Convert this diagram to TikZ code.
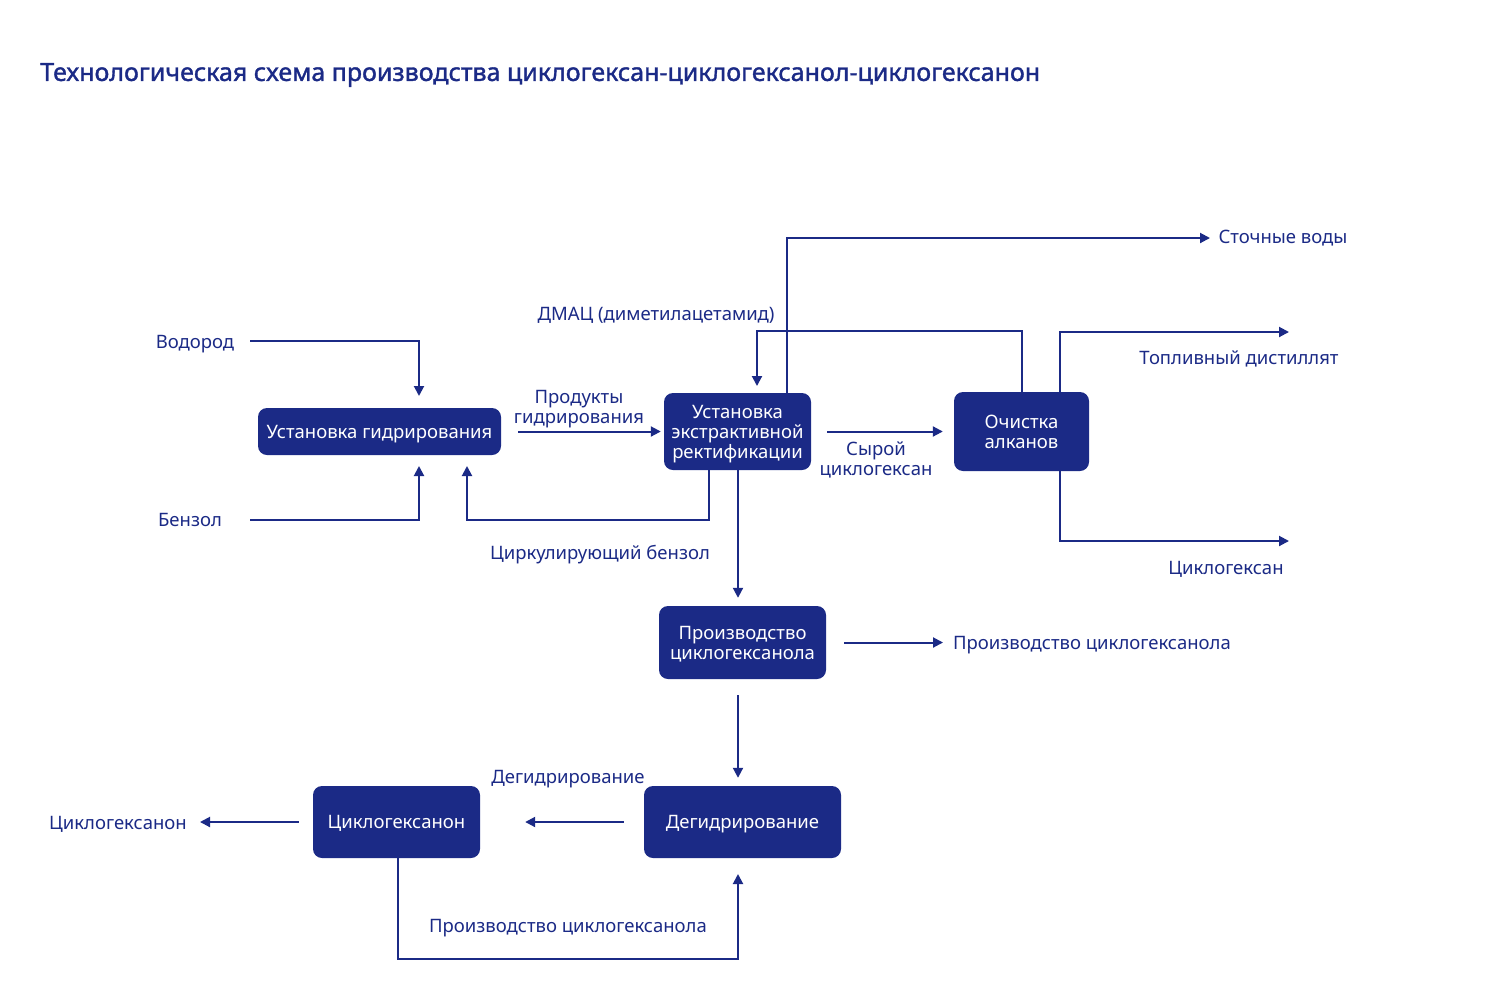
\documentclass[tikz,border=0pt]{standalone}
\usepackage{fontspec}
\setmainfont{Noto Sans}
\newfontfamily\titlefont[FakeBold=1.4]{Noto Sans}
\usetikzlibrary{arrows.meta,calc}
\definecolor{nb}{RGB}{27,42,134}
\begin{document}
\begin{tikzpicture}[x=1pt,y=-1pt,
 box/.style={draw=none,fill=nb,text=white,rounded corners=9pt,align=center,inner sep=0pt,text depth=0pt,font=\fontsize{18.5}{20}\selectfont},
 lbl/.style={text=nb,align=center,inner sep=0pt,text depth=0pt,font=\fontsize{18.5}{20}\selectfont},
 ln/.style={draw=nb,line width=2pt},
 arr/.style={ln,-{Triangle[length=10pt,width=10pt]}}]
\useasboundingbox (0,0) rectangle (1485,993);
% title
\node[text=nb,anchor=west,inner sep=0pt,font=\fontsize{25}{29}\titlefont] (title) at (40,75) {Технологическая схема производства циклогексан-циклогексанол-циклогексанон};
% boxes
\node[box,minimum width=243pt,minimum height=47pt] (hyd) at (379.5,431.5) {Установка гидрирования};
\node[box,minimum width=147pt,minimum height=77pt] (ext) at (737.5,431.5) {Установка\\экстрактивной\\ректификации};
\node[box,minimum width=135pt,minimum height=79pt] (och) at (1021.5,431.5) {Очистка\\алканов};
\node[box,minimum width=167pt,minimum height=73pt] (prod) at (742.5,642.5) {Производство\\циклогексанола};
\node[box,minimum width=197pt,minimum height=72pt] (deg) at (742.5,822) {Дегидрирование};
\node[box,minimum width=167pt,minimum height=72pt] (cyc) at (396.5,822) {Циклогексанон};
% labels
\node[lbl] (vod) at (195,342) {Водород};
\node[lbl] (ben) at (190,520) {Бензол};
\node[lbl] (prodg) at (579,407) {Продукты\\гидрирования};
\node[lbl] (dmac) at (656,314) {ДМАЦ (диметилацетамид)};
\node[lbl] (circ) at (600,552) {Циркулирующий бензол};
\node[lbl] (sw) at (1283,237) {Сточные воды};
\node[lbl] (syr) at (876,459) {Сырой\\циклогексан};
\node[lbl] (td) at (1239,358) {Топливный дистиллят};
\node[lbl] (ch) at (1226,568) {Циклогексан};
\node[lbl] (pcl) at (1092,643) {Производство циклогексанола};
\node[lbl] (dl) at (568,777) {Дегидрирование};
\node[lbl] (chn) at (118,823) {Циклогексанон};
\node[lbl] (pcl2) at (568,926) {Производство циклогексанола};
% coordinates
\coordinate (vodS) at (250,341);
\coordinate (hydT) at (419,396);
\coordinate (benS) at (250,520);
\coordinate (hydB) at (419,466);
\coordinate (cb2) at (709,520);
\coordinate (cb3) at (467,466);
\coordinate (dmT) at (757,331);
\coordinate (dmE) at (757,386);
\coordinate (swE) at (1210,238);
\coordinate (tdE) at (1289,332);
\coordinate (chE) at (1289,541);
\coordinate (lp2) at (738,959);
\coordinate (lp3) at (738,874);
\coordinate (pclS) at (943,642.5);
\coordinate (chnE) at (200,822);
% connectors
\draw[arr] (vodS) -| (hydT);
\draw[arr] (benS) -| (hydB);
\draw[arr] ([xshift=-28.5pt]ext.south) -- (cb2) -| (cb3);
\draw[arr,shorten <=17pt,shorten >=3pt] (hyd.east) -- (ext.west);
\draw[arr] (och.north) |- (dmT) -- (dmE);
\draw[arr] ([xshift=49.5pt]ext.north) |- (swE);
\draw[arr,shorten <=16pt,shorten >=11pt] (ext.east) -- (och.west);
\draw[arr] ([xshift=38.5pt]och.north) |- (tdE);
\draw[arr] ([xshift=38.5pt]och.south) |- (chE);
\draw[arr,shorten >=8pt] ([xshift=0.5pt]ext.south) -- ([xshift=-4.5pt]prod.north);
\draw[arr,shorten <=18pt] (prod.east) -- (pclS);
\draw[arr,shorten <=16pt,shorten >=8pt] ([xshift=-4.5pt]prod.south) -- ([xshift=-4.5pt]deg.north);
\draw[arr,shorten <=20pt,shorten >=45pt] (deg.west) -- (cyc.east);
\draw[arr,shorten <=14pt] (cyc.west) -- (chnE);
\draw[arr] ([xshift=1.5pt]cyc.south) |- (lp2) -- (lp3);
\end{tikzpicture}
\end{document}
